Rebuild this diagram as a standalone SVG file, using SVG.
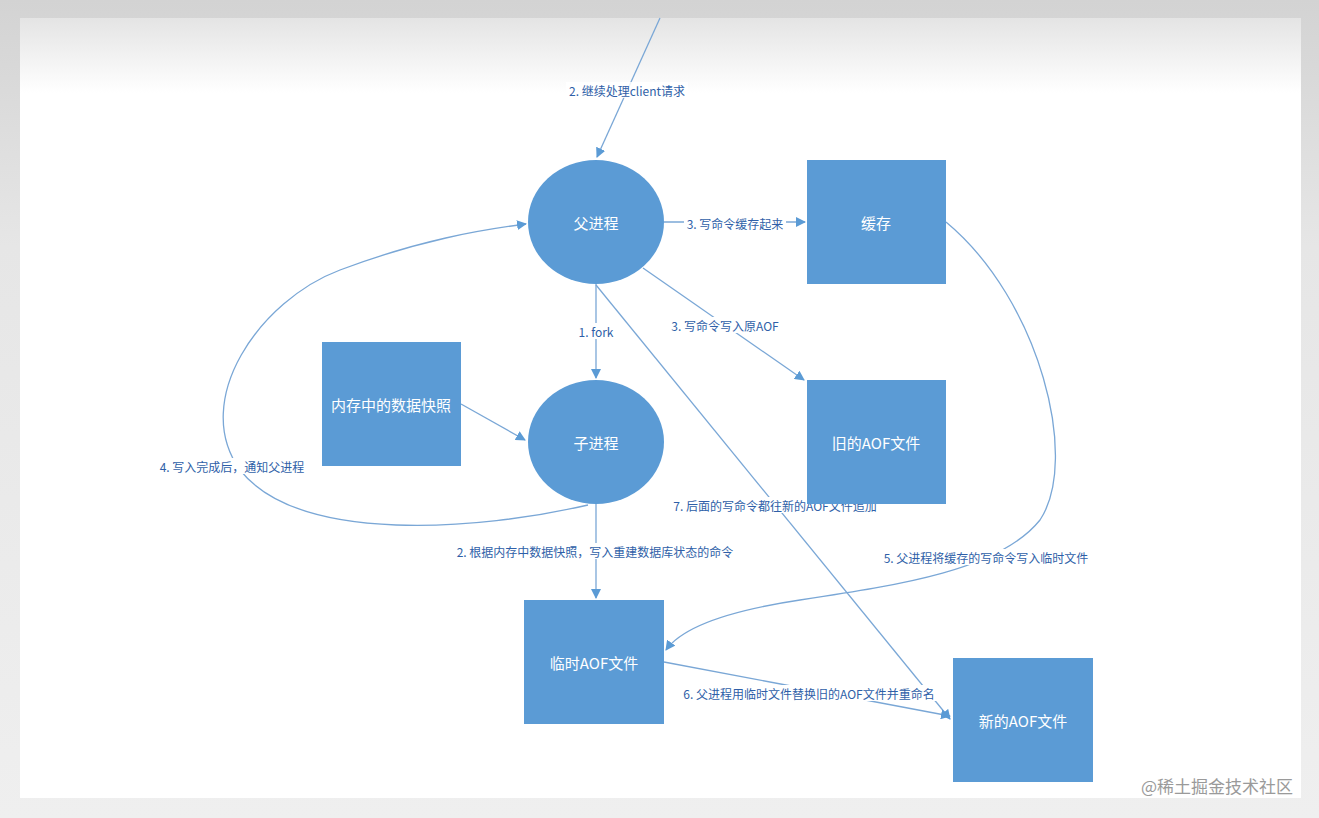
<svg xmlns="http://www.w3.org/2000/svg" width="1319" height="818" viewBox="0 0 1319 818">
<defs>
<linearGradient id="topfade" x1="0" y1="0" x2="0" y2="1">
<stop offset="0" stop-color="#e4e4e4"/>
<stop offset="1" stop-color="#ffffff"/>
</linearGradient>
<linearGradient id="bg" x1="0" y1="0" x2="0" y2="1">
<stop offset="0" stop-color="#d3d3d3"/>
<stop offset="0.3" stop-color="#e6e6e6"/>
<stop offset="1" stop-color="#efefef"/>
</linearGradient>
<marker id="arr" viewBox="0 0 10 10" refX="9" refY="5" markerWidth="10" markerHeight="10" markerUnits="userSpaceOnUse" orient="auto">
<path d="M0,0 L10,5 L0,10 z" fill="#5b9bd5"/>
</marker>
<style>
.node{fill:#5b9bd5;}
.nt{fill:#ffffff;font-family:"Noto Sans CJK SC","Liberation Sans",sans-serif;font-size:15px;text-anchor:middle;dominant-baseline:central;}
.c{fill:none;stroke:#7aa7d6;stroke-width:1.3;}
.lb{fill:#2f5fa8;font-family:"Noto Sans CJK SC","Liberation Sans",sans-serif;font-size:12px;text-anchor:middle;dominant-baseline:central;}
.lbg{fill:#ffffff;}
</style>
</defs>
<rect x="0" y="0" width="1319" height="818" fill="url(#bg)"/>
<rect x="20" y="18" width="1281" height="780" fill="#ffffff"/>
<rect x="20" y="18" width="1281" height="75" fill="url(#topfade)"/>
<g id="connectors">
<path class="c" d="M660,18 L597,157" marker-end="url(#arr)"/>
<path class="c" d="M664,222 L805,222" marker-end="url(#arr)"/>
<path class="c" d="M643,268 L804,380" marker-end="url(#arr)"/>
<path class="c" d="M596,284 L596,378" marker-end="url(#arr)"/>
<path class="c" d="M461,404 L525,440" marker-end="url(#arr)"/>
<path class="c" d="M588,505 C480,530 300,545 240,470 C190,400 260,300 340,270 C420,240 480,230 526,224" marker-end="url(#arr)"/>
<path class="c" d="M596,504 L596,598" marker-end="url(#arr)"/>
<path class="c" d="M596,285 L950,719" marker-end="url(#arr)"/>
<path class="c" d="M946,222 C1040,300 1080,460 1040,520 C1000,570 900,585 800,600 C720,612 680,630 666,650" marker-end="url(#arr)"/>
<path class="c" d="M664,662 L950,716" marker-end="url(#arr)"/>
</g>
<g id="edge-labels">
<rect class="lbg" x="566" y="82" width="122" height="16" opacity="0.85"/>
<text class="lb" x="627" y="90">2. 继续处理client请求</text>
<rect class="lbg" x="684" y="215" width="102" height="16"/>
<text class="lb" x="735" y="223">3. 写命令缓存起来</text>
<rect class="lbg" x="669" y="317" width="112" height="16"/>
<text class="lb" x="725" y="325">3. 写命令写入原AOF</text>
<rect class="lbg" x="576" y="323" width="40" height="16"/>
<text class="lb" x="596" y="331">1. fork</text>
<rect class="lbg" x="157" y="458" width="150" height="16"/>
<text class="lb" x="232" y="466">4. 写入完成后，通知父进程</text>
<rect class="lbg" x="449" y="543" width="292" height="16"/>
<text class="lb" x="595" y="551">2. 根据内存中数据快照，写入重建数据库状态的命令</text>
<rect class="lbg" x="670" y="497" width="210" height="16"/>
<text class="lb" x="775" y="505">7. 后面的写命令都往新的AOF文件追加</text>
<rect class="lbg" x="880" y="549" width="212" height="16"/>
<text class="lb" x="986" y="557">5. 父进程将缓存的写命令写入临时文件</text>
<rect class="lbg" x="680" y="685" width="258" height="16"/>
<text class="lb" x="809" y="693">6. 父进程用临时文件替换旧的AOF文件并重命名</text>
</g>
<g id="parent">
<ellipse class="node" cx="596" cy="222" rx="68" ry="62"/>
<text class="nt" x="596" y="222">父进程</text>
</g>
<g id="cache">
<rect class="node" x="807" y="160" width="139" height="124"/>
<text class="nt" x="876" y="222">缓存</text>
</g>
<g id="snapshot">
<rect class="node" x="322" y="342" width="139" height="124"/>
<text class="nt" x="391" y="404">内存中的数据快照</text>
</g>
<g id="child">
<ellipse class="node" cx="596" cy="442" rx="68" ry="62"/>
<text class="nt" x="596" y="442">子进程</text>
</g>
<g id="old-aof">
<rect class="node" x="807" y="380" width="139" height="124"/>
<text class="nt" x="876" y="442">旧的AOF文件</text>
</g>
<g id="temp-aof">
<rect class="node" x="524" y="600" width="140" height="124"/>
<text class="nt" x="594" y="662">临时AOF文件</text>
</g>
<g id="new-aof">
<rect class="node" x="953" y="658" width="140" height="124"/>
<text class="nt" x="1023" y="720">新的AOF文件</text>
</g>
<text x="1217" y="785" font-family="Noto Sans CJK SC,sans-serif" font-size="17" fill="#9a9a9a" text-anchor="middle" dominant-baseline="central">@稀土掘金技术社区</text>
</svg>
